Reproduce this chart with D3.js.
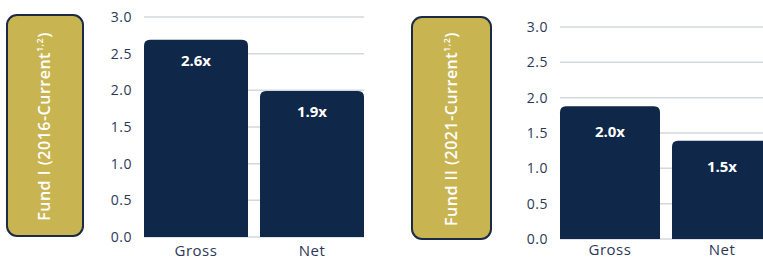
<!DOCTYPE html>
<html>
<head>
<meta charset="utf-8">
<script src="https://cdn.jsdelivr.net/npm/d3@7"></script>
<style>
  body { margin: 0; background: #fff; }
  svg { display: block; font-family: "Open Sans", "Lato", sans-serif; }
</style>
</head>
<body>
<div id="chart"></div>
<script>
// data
const categories = ["Gross", "Net"];
const fund1Values = [2.69, 1.99];
const fund1Labels = ["2.6x", "1.9x"];
const fund2Values = [1.88, 1.39];
const fund2Labels = ["2.0x", "1.5x"];
const yTicks = [0, 0.5, 1, 1.5, 2, 2.5, 3];
const fund1Title = ["Fund I (2016-Current", "1,2", ")"];
const fund2Title = ["Fund II (2021-Current", "1,2", ")"];

const navy = "#0f2748";
const gold = "#c8b552";

const svg = d3.select("#chart").append("svg")
    .attr("width", 763)
    .attr("height", 260);

function drawPanel(opts) {
    const g = svg.append("g");

    // gold title box
    g.append("rect")
        .attr("x", opts.box[0]).attr("y", opts.box[1])
        .attr("width", opts.box[2]).attr("height", opts.box[3])
        .attr("rx", 10)
        .attr("fill", gold)
        .attr("stroke", "#1c2b45")
        .attr("stroke-width", 2);

    const cx = opts.box[0] + opts.box[2] / 2 + 5,
        cy = opts.box[1] + opts.box[3] / 2 + 1;
    const t = g.append("text")
        .attr("transform", `translate(${cx},${cy}) rotate(-90)`)
        .attr("text-anchor", "middle")
        .attr("fill", "#fff")
        .attr("font-weight", 600)
        .attr("font-size", "16px")
        .attr("letter-spacing", "0.5px");
    t.append("tspan").text(opts.title[0]);
    t.append("tspan").attr("font-size", "9px").attr("dy", -7).text(opts.title[1]);
    t.append("tspan").attr("dy", 7).text(opts.title[2]);

    const y = d3.scaleLinear().domain([0, 3]).range(opts.yRange);
    const x = d3.scaleBand()
        .domain(categories)
        .range(opts.xRange)
        .paddingInner(opts.pad)
        .paddingOuter(0);

    // gridlines
    g.selectAll("line.grid")
        .data(yTicks)
        .enter().append("line")
        .attr("class", "grid")
        .attr("x1", opts.xRange[0]).attr("x2", opts.xRange[1])
        .attr("y1", d => y(d)).attr("y2", d => y(d))
        .attr("stroke", "#d3d7de")
        .attr("stroke-width", 1.5);

    // y tick labels
    g.selectAll("text.tick")
        .data(yTicks)
        .enter().append("text")
        .attr("class", "tick")
        .attr("x", opts.xRange[0] - 12)
        .attr("y", d => y(d))
        .attr("dy", "0.36em")
        .attr("text-anchor", "end")
        .attr("fill", "#2b3856")
        .attr("font-size", "14px")
        .attr("letter-spacing", "0.5px")
        .text(d => d.toFixed(1));

    // bars with rounded tops
    const r = 6;
    g.selectAll("path.bar")
        .data(opts.values)
        .enter().append("path")
        .attr("class", "bar")
        .attr("fill", navy)
        .attr("d", (d, i) => {
            const x0 = x(categories[i]), w = x.bandwidth(),
                y0 = y(d), y1 = y(0);
            return `M${x0},${y1}V${y0 + r}Q${x0},${y0} ${x0 + r},${y0}` +
                `H${x0 + w - r}Q${x0 + w},${y0} ${x0 + w},${y0 + r}V${y1}Z`;
        });

    // value labels
    g.selectAll("text.val")
        .data(opts.values)
        .enter().append("text")
        .attr("class", "val")
        .attr("x", (d, i) => x(categories[i]) + x.bandwidth() / 2)
        .attr("y", d => y(d) + opts.labelOffset)
        .attr("text-anchor", "middle")
        .attr("fill", "#fff")
        .attr("font-weight", 700)
        .attr("font-size", "15px")
        .text((d, i) => opts.labels[i]);

    // category labels
    g.selectAll("text.cat")
        .data(categories)
        .enter().append("text")
        .attr("class", "cat")
        .attr("x", d => x(d) + x.bandwidth() / 2)
        .attr("y", y(0) + opts.catOffset)
        .attr("text-anchor", "middle")
        .attr("fill", "#2b3856")
        .attr("font-size", "15px")
        .attr("letter-spacing", "0.5px")
        .text(d => d);
}

drawPanel({
    box: [7, 15, 76, 221],
    title: fund1Title,
    yRange: [237, 17],
    xRange: [144, 364],
    pad: 12 / 116,
    values: fund1Values,
    labels: fund1Labels,
    labelOffset: 26,
    catOffset: 19
});

drawPanel({
    box: [412, 17, 79, 222],
    title: fund2Title,
    yRange: [239, 27],
    xRange: [560, 772],
    pad: 12 / 112,
    values: fund2Values,
    labels: fund2Labels,
    labelOffset: 31,
    catOffset: 16
});
</script>
</body>
</html>
